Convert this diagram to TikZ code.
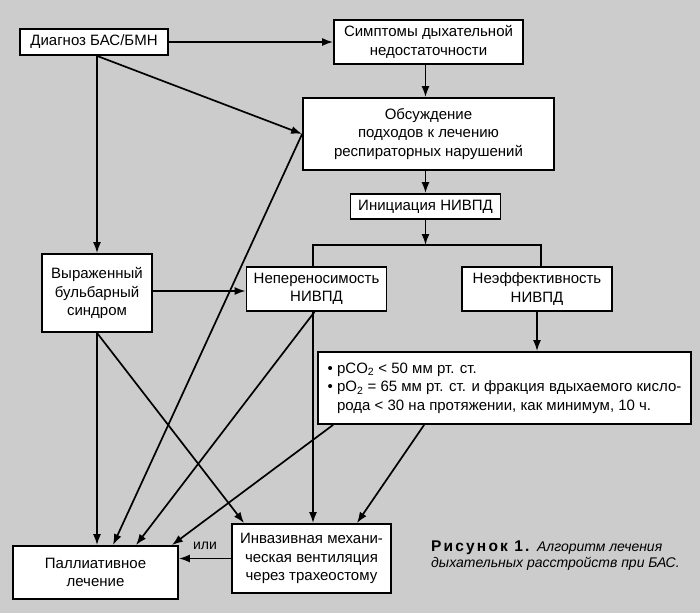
\documentclass[tikz,border=0pt]{standalone}
\usepackage{fontspec}
\setmainfont{Liberation Sans}
\usetikzlibrary{arrows.meta,calc}
\definecolor{bg}{RGB}{204,204,204}
\begin{document}
\begin{tikzpicture}[x=1pt,y=-1pt,
 box/.style={draw,fill=white,line width=1.8pt,inner sep=0pt,align=center,font=\fontsize{15}{18.5}\selectfont},
 conn/.style={line width=1.7pt},
 arr/.style={conn,-{Latex[length=11pt,width=8pt]}}]
\fill[bg] (0,0) rectangle (700,613);
\useasboundingbox (0,0) rectangle (700,613);
\node[box,minimum width=148pt,minimum height=26pt] (diag) at (94,42) {Диагноз БАС/БМН};
\node[box,minimum width=189pt,minimum height=44pt] (symp) at (428.5,42) {Симптомы дыхательной\\недостаточности};
\node[box,minimum width=251pt,minimum height=72pt] (obs) at (428.5,134) {Обсуждение\\подходов к лечению\\респираторных нарушений};
\node[box,minimum width=150pt,minimum height=25pt] (init) at (425.5,206.5) {Инициация НИВПД};
\node[box,minimum width=140pt,minimum height=44pt] (nep) at (316.5,289) {Непереносимость\\НИВПД};
\node[box,minimum width=150pt,minimum height=44pt] (neef) at (537,289) {Неэффективность\\НИВПД};
\node[box,minimum width=373pt,minimum height=72pt,align=left] (crit) at (504.5,388) {\begin{tabular}{@{}l@{\ }l@{}}
•&pCO\textsubscript{2} < 50 мм рт. ст.\\
•&pO\textsubscript{2} = 65 мм рт. ст. и фракция вдыхаемого кисло-\\
&рода < 30 на протяжении, как минимум, 10 ч.\end{tabular}};
\node[box,minimum width=110pt,minimum height=78pt] (vyr) at (97,293) {Выраженный\\бульбарный\\синдром};
\node[box,minimum width=165pt,minimum height=53pt] (pall) at (95.5,572.5) {Паллиативное\\лечение};
\node[box,minimum width=159pt,minimum height=69pt] (inv) at (311.5,558.5) {Инвазивная механи-\\ческая вентиляция\\через трахеостому};
\node[align=left,anchor=north west,inner sep=0pt,font=\fontsize{14}{16}\selectfont] (cap) at (431,541)
 {{\fontsize{15.5}{16}\selectfont\bfseries\addfontfeatures{LetterSpace=14}Рисунок 1.}\, \itshape Алгоритм лечения\\\itshape дыхательных расстройств при БАС.};
\coordinate (br) at (425.5,245);
% connectors
\draw[arr] (diag.east) -- (symp.west);
\draw[arr] ([xshift=3pt]diag.south) -- (obs.west);
\draw[arr] (vyr.north |- diag.south) -- (vyr.north);
\draw[arr] (init.north |- symp.south) -- (init.north |- obs.north);
\draw[arr] (init.north |- obs.south) -- (init.north);
\draw[arr] (init.south) -- (br);
\draw[conn] ([xshift=-3.5pt]nep.north) |- (br) -| ([xshift=4pt]neef.north);
\draw[arr] (neef.south) -- (neef.south |- crit.north);
\draw[arr] ([yshift=2pt]vyr.east) -- ([yshift=2pt]vyr.east -| nep.west);
\draw[arr] (vyr.south) -- (vyr.south |- pall.north);
\draw[arr] (vyr.south) -- ([xshift=13pt]inv.north west);
\draw[arr] (obs.west) -- ([xshift=17.5pt]pall.north);
\draw[arr] ([xshift=-2pt]nep.south) -- ([xshift=40.5pt]pall.north);
\draw[arr] ([xshift=-3.5pt]nep.south) -- ([xshift=-3.5pt]nep.south |- inv.north);
\draw[arr] ([xshift=16pt]crit.south west) -- ([xshift=-7pt]pall.north east);
\draw[arr] ([xshift=107pt]crit.south west) -- ([xshift=-35pt]inv.north east);
\draw[arr] (inv.west) -- node[above,font=\fontsize{14}{16}\selectfont,yshift=5pt] (ili) {или} (pall.east |- inv.west);
\end{tikzpicture}
\end{document}
